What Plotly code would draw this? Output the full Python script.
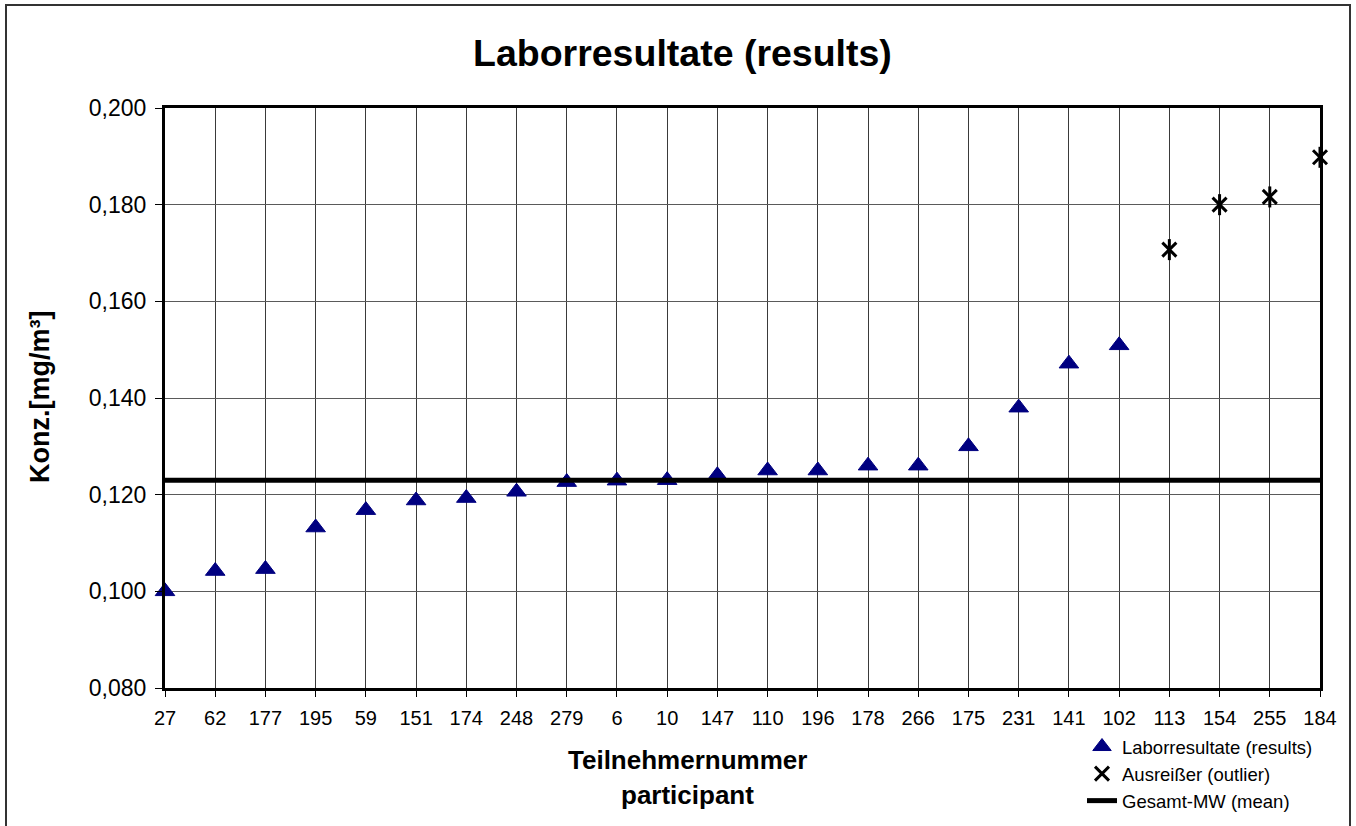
import plotly.graph_objects as go

# ---- data ----
participants = ["27", "62", "177", "195", "59", "151", "174", "248", "279", "6", "10", "147",
                "110", "196", "178", "266", "175", "231", "141", "102", "113", "154", "255", "184"]
results = [0.1000, 0.1042, 0.1046, 0.1132, 0.1168, 0.1188, 0.1193, 0.1206, 0.1226, 0.1229,
           0.1230, 0.1240, 0.1250, 0.1250, 0.1260, 0.1260, 0.1300, 0.1380, 0.1471, 0.1509]
outlier_participants = ["113", "154", "255", "184"]
outliers = [0.1707, 0.1800, 0.1816, 0.1898]
mean_value = 0.1230
y_ticks = [0.080, 0.100, 0.120, 0.140, 0.160, 0.180, 0.200]

# plot area in pixels
W, H = 1356, 826
L, R, T, B = 165, 1320, 108, 688
pw, ph = R - L, B - T

def px_x(x):
    return (x - L) / pw

def px_y(y):
    return (B - y) / ph

FONT = "Liberation Sans, Arial, sans-serif"

fig = go.Figure()

fig.add_trace(go.Scatter(
    x=participants[:len(results)], y=results, mode="markers",
    name="Laborresultate (results)",
    marker=dict(symbol="triangle-up", size=17, color="#000080",
                line=dict(color="#000080", width=1)),
    cliponaxis=False,
))
fig.add_trace(go.Scatter(
    x=outlier_participants, y=outliers, mode="markers",
    name="Ausreißer (outlier)",
    marker=dict(symbol="x-thin-open", size=14, color="black",
                line=dict(color="black", width=3)),
    cliponaxis=False,
))
fig.add_trace(go.Scatter(
    x=outlier_participants, y=outliers, mode="markers",
    showlegend=False, hoverinfo="skip",
    marker=dict(symbol="line-ns-open", size=15, color="black",
                line=dict(color="black", width=3)),
    cliponaxis=False,
))
fig.add_trace(go.Scatter(
    x=participants, y=[mean_value] * len(participants), mode="lines",
    name="Gesamt-MW (mean)",
    line=dict(color="black", width=5),
    cliponaxis=False,
))

fig.update_layout(
    width=W, height=H,
    margin=dict(l=L, r=W - R, t=T, b=H - B, autoexpand=False),
    paper_bgcolor="white", plot_bgcolor="white",
    separators=",.",
    font=dict(family=FONT, color="black"),
    showlegend=True,
    legend=dict(
        x=px_x(1082), y=px_y(728), xanchor="left", yanchor="top",
        font=dict(size=18.5, family=FONT, color="black"),
        bgcolor="rgba(0,0,0,0)", tracegroupgap=0, itemwidth=30,
    ),
    xaxis=dict(
        type="category", categoryorder="array", categoryarray=participants,
        range=[0, len(participants) - 1],
        showgrid=True, gridcolor="#3a3a3a", gridwidth=1,
        showline=True, linecolor="black", linewidth=3, mirror=True,
        ticks="outside", ticklen=6, tickcolor="black", tickwidth=1,
        tickfont=dict(size=20, family=FONT, color="black"),
        ticklabelstandoff=4,
        zeroline=False,
    ),
    yaxis=dict(
        range=[0.08, 0.2], tickvals=y_ticks, tickformat=".3f",
        showgrid=True, gridcolor="#5a5a5a", gridwidth=1,
        showline=True, linecolor="black", linewidth=3, mirror=True,
        ticks="outside", ticklen=7, tickcolor="black", tickwidth=1,
        tickfont=dict(size=23, family=FONT, color="black"),
        ticklabelstandoff=4,
        zeroline=False,
    ),
    annotations=[
        dict(text="Laborresultate (results)", xref="paper", yref="paper",
             x=px_x(682), y=px_y(53), xanchor="center", yanchor="middle",
             showarrow=False, font=dict(size=37.5, family=FONT, color="black", weight="bold")),
        dict(text="Teilnehmernummer", xref="paper", yref="paper",
             x=px_x(687), y=px_y(760), xanchor="center", yanchor="middle",
             showarrow=False, font=dict(size=26, family=FONT, color="black", weight="bold")),
        dict(text="participant", xref="paper", yref="paper",
             x=px_x(687), y=px_y(795), xanchor="center", yanchor="middle",
             showarrow=False, font=dict(size=26, family=FONT, color="black", weight="bold")),
        dict(text="Konz.[mg/m³]", xref="paper", yref="paper",
             x=px_x(40), y=px_y(397), xanchor="center", yanchor="middle", textangle=-90,
             showarrow=False, font=dict(size=27, family=FONT, color="black", weight="bold")),
    ],
    shapes=[
        dict(type="rect", xref="paper", yref="paper",
             x0=px_x(6), x1=px_x(1350), y0=px_y(840), y1=px_y(5),
             line=dict(color="#333333", width=2), fillcolor="rgba(0,0,0,0)", layer="above"),
    ],
)

fig.write_html("out.html",
               config={"displayModeBar": False},
               post_script="document.body.style.margin='0';document.body.style.overflow='hidden';")
